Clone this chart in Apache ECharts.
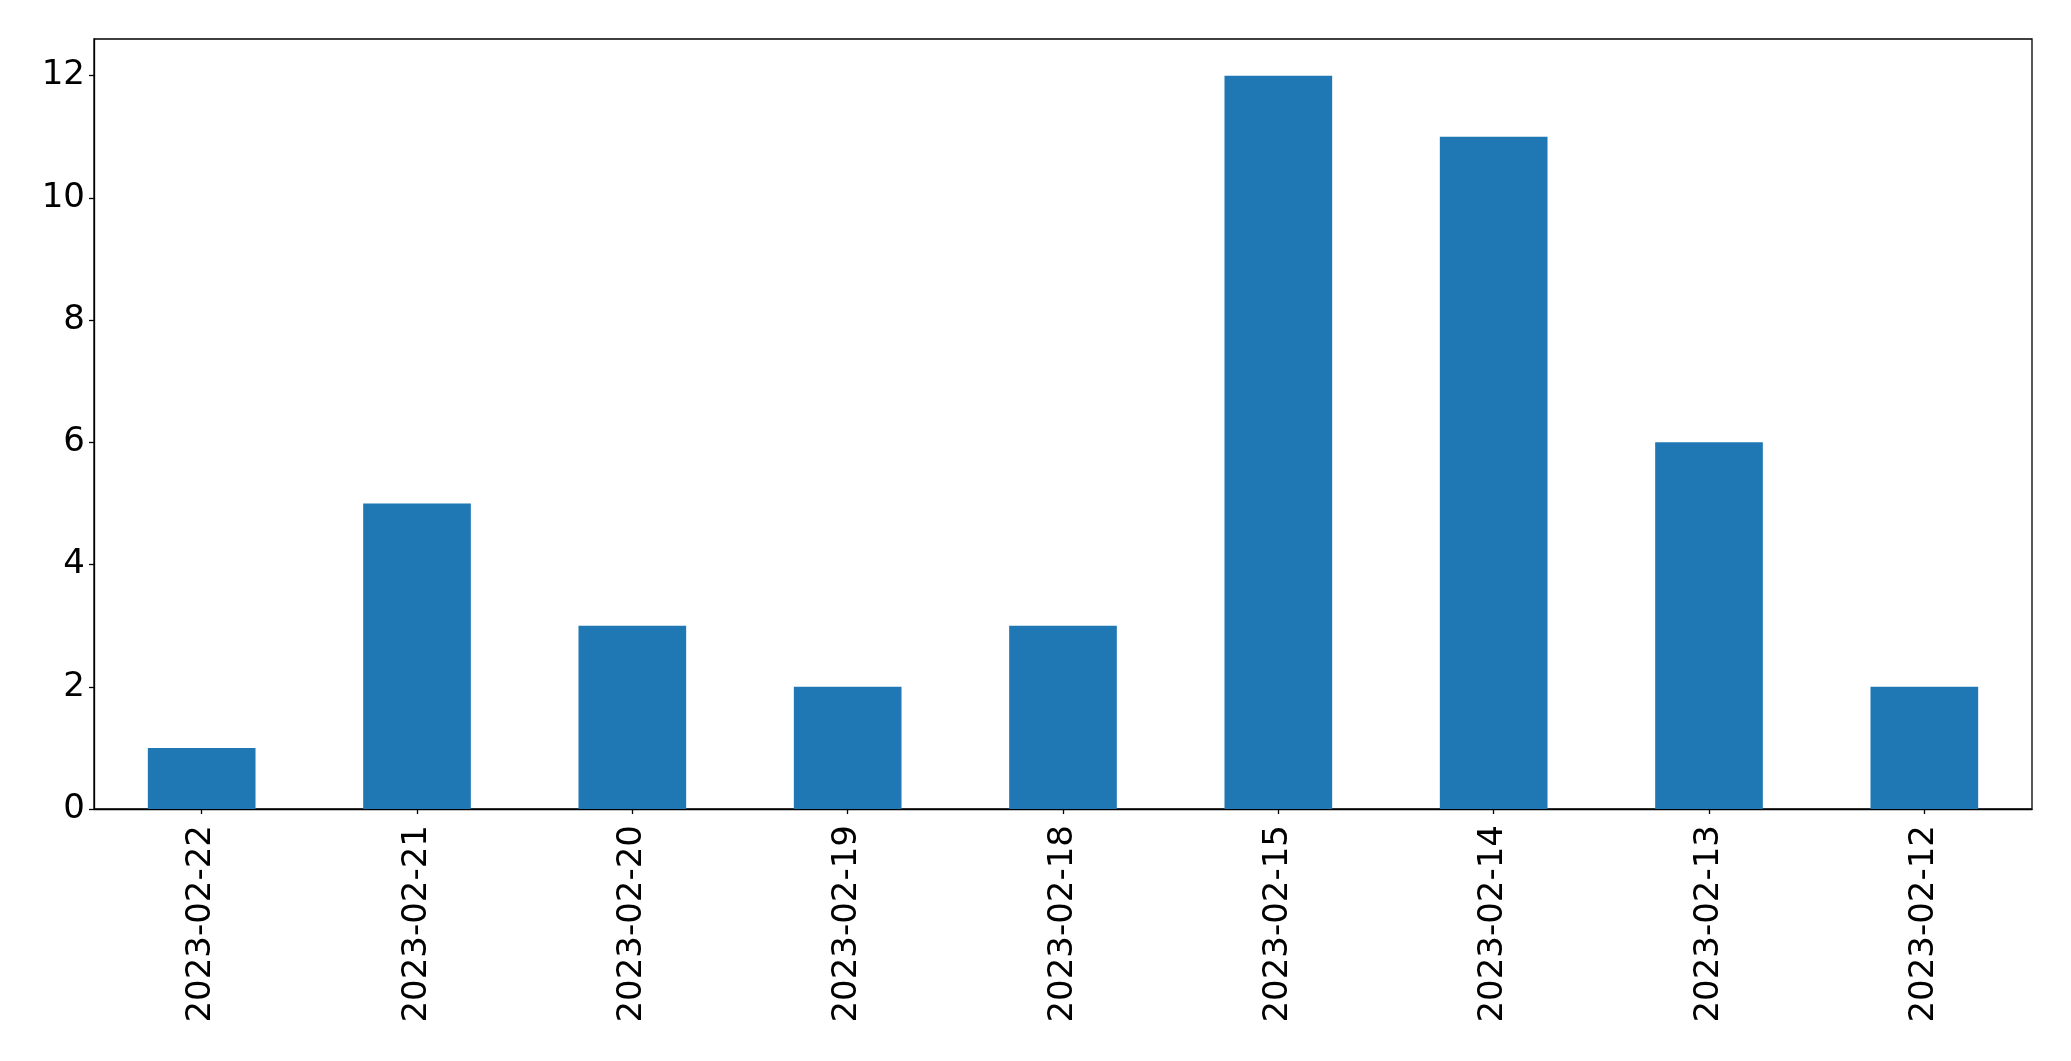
<!DOCTYPE html>
<html><head><meta charset="utf-8">
<script src="https://cdn.jsdelivr.net/npm/echarts@6/dist/echarts.min.js"></script>
<style>html,body{margin:0;padding:0;background:#fff;}#c{width:2071px;height:1061px;}</style>
</head><body><div id="c"></div>
<script>
const categories = ['2023-02-22','2023-02-21','2023-02-20','2023-02-19','2023-02-18','2023-02-15','2023-02-14','2023-02-13','2023-02-12'];
const values = [1,5,3,2,3,12,11,6,2];
const yTicks = [0,2,4,6,8,10,12];

const chart = echarts.init(document.getElementById('c'), null, {renderer:'canvas'});
const font = 'DejaVu Sans';
chart.setOption({
  animation: false,
  backgroundColor: '#fff',
  grid: {left: 94, right: 39, top: 39, bottom: 252, show: true, borderColor: '#000', borderWidth: 1.3, backgroundColor: 'transparent'},
  xAxis: {
    type: 'category', data: categories, boundaryGap: true,
    axisLine: {show: true, lineStyle: {color: '#000', width: 1.3}},
    axisTick: {show: true, alignWithLabel: true, length: 5, lineStyle: {color: '#000', width: 1.3}},
    axisLabel: {rotate: 90, interval: 0, color: '#000', fontSize: 34, fontFamily: font, margin: 16},
    splitLine: {show: false}
  },
  yAxis: {
    type: 'value', min: 0, max: 12.6,
    axisLine: {show: true, lineStyle: {color: '#000', width: 1.3}},
    axisTick: {show: true, length: 5, customValues: yTicks, lineStyle: {color: '#000', width: 1.3}},
    axisLabel: {color: '#000', fontSize: 34, fontFamily: font, margin: 9, customValues: yTicks},
    splitLine: {show: false}
  },
  series: [{type: 'bar', data: values, barWidth: '50%', itemStyle: {color: '#1f77b4'}}]
});
</script></body></html>
